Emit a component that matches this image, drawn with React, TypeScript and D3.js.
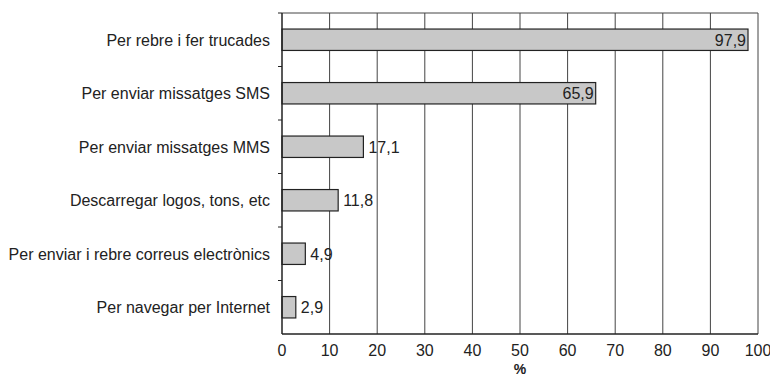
import React from "react";
import * as d3 from "d3";

const categories = [
  "Per rebre i fer trucades",
  "Per enviar missatges SMS",
  "Per enviar missatges MMS",
  "Descarregar logos, tons, etc",
  "Per enviar i rebre correus electrònics",
  "Per navegar per Internet",
];
const values = [97.9, 65.9, 17.1, 11.8, 4.9, 2.9];
const ticks = [0, 10, 20, 30, 40, 50, 60, 70, 80, 90, 100];
const axisTitle = "%";

export default function App() {
  const W = 770, H = 376;
  const left = 282, right = 758, top = 13, bottom = 334;
  const x = d3.scaleLinear().domain([0, 100]).range([left, right]);
  const y = d3.scaleBand<string>().domain(categories).range([top, bottom]).paddingInner(0.6).paddingOuter(0.3);
  const band = (bottom - top) / categories.length;
  const font = "Liberation Sans, Arial, sans-serif";
  const fs = 16;
  const fmt = (v: number) => v.toFixed(1).replace(".", ",");
  return (
    <svg width={W} height={H} style={{ position: "absolute", left: 0, top: 0 }} fontFamily={font}>
      <rect x={0} y={0} width={W} height={H} fill="#fff" />
      {ticks.slice(1).map((t) => (
        <line key={t} x1={x(t)} x2={x(t)} y1={top} y2={bottom} stroke="#444" strokeWidth={1} />
      ))}
      <line x1={left} x2={right} y1={top} y2={top} stroke="#444" strokeWidth={1} />
      {categories.map((c, i) => (
        <line key={"t" + i} x1={left - 4} x2={left} y1={top + band * i} y2={top + band * i} stroke="#222" />
      ))}
      {categories.map((c, i) => {
        const v = values[i];
        const yy = y(c)!;
        const h = y.bandwidth();
        const inside = v > 50;
        return (
          <g key={c}>
            <rect x={x(0)} y={yy} width={x(v) - x(0)} height={h} fill="#c8c8c8" stroke="#222" strokeWidth={1.2} />
            <text x={left - 12} y={yy + h / 2} dy="0.37em" textAnchor="end" fontSize={fs} fill="#222">{c}</text>
            <text
              x={inside ? x(v) - 2 : x(v) + 5}
              y={yy + h / 2}
              dy="0.37em"
              textAnchor={inside ? "end" : "start"}
              fontSize={fs}
              fill="#222"
            >{fmt(v)}</text>
          </g>
        );
      })}
      <line x1={left} x2={left} y1={top} y2={bottom} stroke="#222" strokeWidth={1.5} />
      <line x1={left} x2={right} y1={bottom} y2={bottom} stroke="#222" strokeWidth={1.5} />
      {ticks.map((t) => (
        <text key={"l" + t} x={x(t)} y={356} textAnchor="middle" fontSize={fs} fill="#222">{t}</text>
      ))}
      <text x={x(50)} y={374} textAnchor="middle" fontSize={14} fontWeight="bold" fill="#222">{axisTitle}</text>
    </svg>
  );
}
